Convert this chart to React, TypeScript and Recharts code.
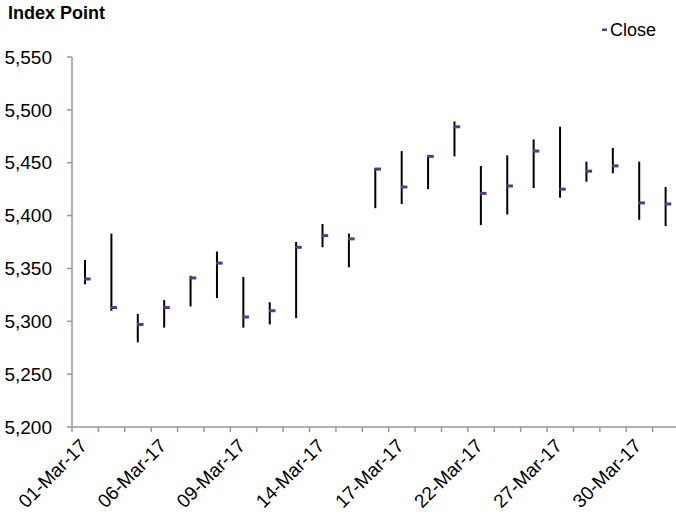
import React from 'react';
import { ComposedChart, Bar, Line, XAxis, YAxis, Legend } from 'recharts';

const dates = ['01-Mar-17','02-Mar-17','03-Mar-17','06-Mar-17','07-Mar-17','08-Mar-17','09-Mar-17','10-Mar-17','13-Mar-17','14-Mar-17','15-Mar-17','16-Mar-17','17-Mar-17','20-Mar-17','21-Mar-17','22-Mar-17','23-Mar-17','24-Mar-17','27-Mar-17','28-Mar-17','29-Mar-17','30-Mar-17','31-Mar-17'];
const high = [5358,5383,5307,5320,5343,5366,5342,5318,5375,5392,5383,5445,5461,5457,5489,5447,5457,5472,5484,5451,5464,5451,5427];
const low = [5335,5310,5280,5294,5314,5322,5294,5297,5303,5370,5351,5407,5411,5425,5456,5391,5401,5426,5417,5432,5440,5396,5390];
const close = [5340,5313,5297,5313,5341,5355,5304,5310,5370,5381,5378,5444,5427,5456,5484,5421,5428,5461,5425,5442,5447,5412,5411];
const yTicks = [5200,5250,5300,5350,5400,5450,5500,5550];
const labelEvery = 3;

const data = dates.map((d, i) => ({ idx: i, date: d, range: [low[i], high[i]], close: close[i] }));

const xTicks: number[] = [];
dates.forEach((_, i) => {
  xTicks.push(i - 0.5);
  if (i % labelEvery === 0) xTicks.push(i);
});
xTicks.push(dates.length - 0.5);

const FONT = '"Liberation Sans", Arial, sans-serif';
const AXIS = '#999999';
const PURPLE = '#5E3888';

const XTick = (props: any) => {
  const { x, y, payload } = props;
  const v = payload.value;
  if (!Number.isInteger(v)) {
    return <line x1={x} x2={x} y1={y} y2={y + 5} stroke={AXIS} strokeWidth={1.5} />;
  }
  const tx = x + 3;
  const ty = y + 20;
  return (
    <text x={tx} y={ty} textAnchor="end" fontSize={19} fill="#000" fontFamily={FONT}
      transform={`rotate(-45, ${tx}, ${ty})`}>
      {dates[v]}
    </text>
  );
};

const CloseDot = (props: any) => {
  const { cx, cy } = props;
  if (cx == null || cy == null) return null;
  return <rect x={cx - 1} y={cy - 1.5} width={6.5} height={3} fill={PURPLE} />;
};

const LegendContent = () => (
  <svg width={70} height={24} style={{ display: 'block' }}>
    <rect x={2} y={10.5} width={5} height={2.5} fill={PURPLE} />
    <text x={10} y={18} fontSize={18} fontFamily={FONT} fill="#000">Close</text>
  </svg>
);

export default function App() {
  return (
    <div style={{ position: 'absolute', left: 0, top: 0, width: 676, height: 515, overflow: 'hidden', background: '#fff', fontFamily: FONT }}>
      <div style={{ position: 'absolute', left: 8, top: 4, fontSize: 18, fontWeight: 'bold', lineHeight: '18px', color: '#000' }}>Index Point</div>
      <ComposedChart width={681} height={515} data={data} margin={{ top: 57, right: 2, bottom: 0, left: 0 }}>
        <XAxis dataKey="idx" type="number" domain={[-0.5, 22.5]} ticks={xTicks} interval={0}
          tickSize={0} tickMargin={0} tickLine={false} allowDataOverflow
          axisLine={{ stroke: AXIS, strokeWidth: 1.5 }} tick={<XTick />} height={88} />
        <YAxis domain={[5200, 5550]} ticks={yTicks} interval={0} width={72} tickSize={5} tickMargin={15}
          allowDataOverflow
          axisLine={{ stroke: AXIS, strokeWidth: 1.5 }} tickLine={{ stroke: AXIS, strokeWidth: 1.5 }}
          tick={{ fontSize: 19, fill: '#000', fontFamily: FONT }}
          tickFormatter={(v: number) => v.toLocaleString('en-US')} />
        <Legend content={<LegendContent />} layout="horizontal" align="center" verticalAlign="middle"
          wrapperStyle={{ position: 'absolute', left: 600, top: 18, width: 70, height: 24 }} />
        <Bar dataKey="range" barSize={2} fill="#000" isAnimationActive={false} legendType="none" />
        <Line dataKey="close" name="Close" stroke="none" dot={<CloseDot />} activeDot={false} isAnimationActive={false} />
      </ComposedChart>
    </div>
  );
}
